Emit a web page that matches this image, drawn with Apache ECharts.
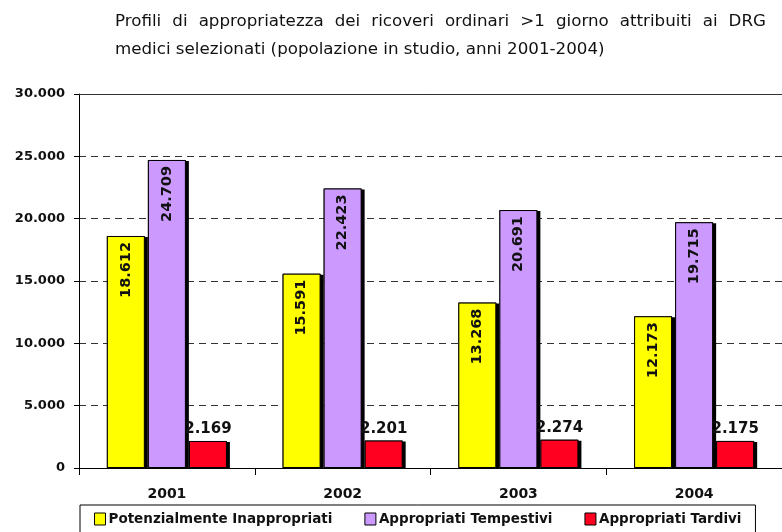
<!DOCTYPE html>
<html>
<head>
<meta charset="utf-8">
<script src="https://cdn.jsdelivr.net/npm/echarts@6/dist/echarts.min.js"></script>
<style>
html,body{margin:0;padding:0;background:#fff;}
#chartWrap{width:782px;height:532px;}
</style>
</head>
<body>
<div id="chartWrap"></div>
<script>
// dati
var anni = ['2001', '2002', '2003', '2004'];
var potInappropriati = [18612, 15591, 13268, 12173];
var apprTempestivi = [24709, 22423, 20691, 19715];
var apprTardivi = [2169, 2201, 2274, 2175];
var nomiSerie = ['Potenzialmente Inappropriati', 'Appropriati Tempestivi', 'Appropriati Tardivi'];
var coloriSerie = ['#ffff00', '#cc99ff', '#ff0020'];
var yTicks = [0, 5000, 10000, 15000, 20000, 25000, 30000];
var titolo1 = 'Profili di appropriatezza dei ricoveri ordinari >1 giorno attribuiti ai DRG';
var titolo2 = 'medici selezionati (popolazione in studio, anni 2001-2004)';

// formato italiano: 24.709
function fmt(v){
	return String(v).replace(/\B(?=(\d{3})+(?!\d))/g, '.');
}

var font = 'DejaVu Sans';
var dom = document.getElementById('chartWrap');
var myChart = echarts.init(dom);

/**
 * [titoloGiustificato riga del titolo giustificata tra x0 e x1]
 */
function titoloGiustificato(testo, x0, x1, y, size){
	var ctx = document.createElement('canvas').getContext('2d');
	ctx.font = size + 'px "' + font + '"';
	var parole = testo.split(' ');
	var tot = 0;
	for(var i = 0; i < parole.length; i++){
		tot += ctx.measureText(parole[i]).width;
	}
	var gap = (x1 - x0 - tot) / (parole.length - 1);
	var el = [], x = x0;
	for(var i = 0; i < parole.length; i++){
		el.push({
			type: 'text',
			left: x, top: y,
			style: { text: parole[i], fontFamily: font, fontSize: size, fill: '#111' }
		});
		x += ctx.measureText(parole[i]).width + gap;
	}
	return el;
}

var labelInside = {
	show: true,
	position: 'insideTop',
	rotate: 90,
	align: 'right',
	verticalAlign: 'middle',
	distance: 6,
	fontFamily: font,
	fontWeight: 'bold',
	fontSize: 14.5,
	color: '#111',
	formatter: function(p){ return fmt(p.value); }
};

var labelTop = {
	show: true,
	position: 'top',
	distance: 4,
	fontFamily: font,
	fontWeight: 'bold',
	fontSize: 15,
	color: '#111',
	formatter: function(p){ return fmt(p.value); }
};

var graphic = titoloGiustificato(titolo1, 115, 766, 13, 16.7);
graphic.push({
	type: 'text',
	left: 115, top: 41,
	style: { text: titolo2, fontFamily: font, fontSize: 16.7, fill: '#111' }
});

var option = {
	animation: false,
	graphic: graphic,
	legend: {
		data: nomiSerie,
		left: 80,
		top: 505,
		icon: 'rect',
		itemWidth: 11,
		itemHeight: 12,
		itemGap: 32,
		padding: [7, 14, 8, 14],
		borderColor: '#000',
		borderWidth: 1,
		backgroundColor: '#fff',
		itemStyle: { borderColor: '#000', borderWidth: 1 },
		textStyle: {
			fontFamily: font,
			fontWeight: 'bold',
			fontSize: 13.5,
			color: '#111',
			padding: [0, 0, 0, -2]
		}
	},
	grid: {
		left: 79,
		right: -9,
		top: 94,
		bottom: 64
	},
	xAxis: [{
		type: 'category',
		data: anni,
		axisLine: { lineStyle: { color: '#000', width: 1 } },
		axisTick: { show: true, length: 7, lineStyle: { color: '#000' } },
		axisLabel: {
			margin: 19,
			fontFamily: font,
			fontWeight: 'bold',
			fontSize: 14,
			color: '#111'
		}
	},{
		// bordo continuo in alto (30.000), usato anche per le ombre
		type: 'category',
		data: anni,
		position: 'top',
		axisLine: { show: true, lineStyle: { color: '#333', width: 1 } },
		axisTick: { show: false },
		axisLabel: { show: false }
	}],
	yAxis: {
		type: 'value',
		min: yTicks[0],
		max: yTicks[yTicks.length - 1],
		interval: 5000,
		axisLine: { show: true, lineStyle: { color: '#000', width: 1 } },
		axisTick: { show: true, length: 5, lineStyle: { color: '#000' } },
		axisLabel: {
			margin: 14,
			fontFamily: font,
			fontWeight: 'bold',
			fontSize: 13,
			color: '#111',
			formatter: function(v){ return fmt(v); }
		},
		splitLine: {
			show: true,
			lineStyle: { color: '#333', type: [7, 5], width: 1 }
		}
	},
	series: []
};

var valori = [potInappropriati, apprTempestivi, apprTardivi];
// ombre nere (sotto), sull'asse x secondario
for(var i = 0; i < valori.length; i++){
	option.series.push({
		name: 'ombra' + i,
		type: 'bar',
		xAxisIndex: 1,
		data: valori[i],
		barWidth: 38,
		barGap: '8%',
		silent: true,
		z: 1,
		itemStyle: {
			color: '#000',
			shadowColor: '#000',
			shadowOffsetX: 3,
			shadowOffsetY: 1,
			shadowBlur: 0
		}
	});
}
// barre colorate
for(var i = 0; i < valori.length; i++){
	option.series.push({
		name: nomiSerie[i],
		type: 'bar',
		xAxisIndex: 0,
		data: valori[i],
		barWidth: 38,
		barGap: '8%',
		z: 3,
		itemStyle: {
			color: coloriSerie[i],
			borderColor: '#000',
			borderWidth: 1
		},
		label: i < 2 ? labelInside : labelTop
	});
}

if (option && typeof option === "object") {
	myChart.setOption(option, true);
}
</script>
</body>
</html>
